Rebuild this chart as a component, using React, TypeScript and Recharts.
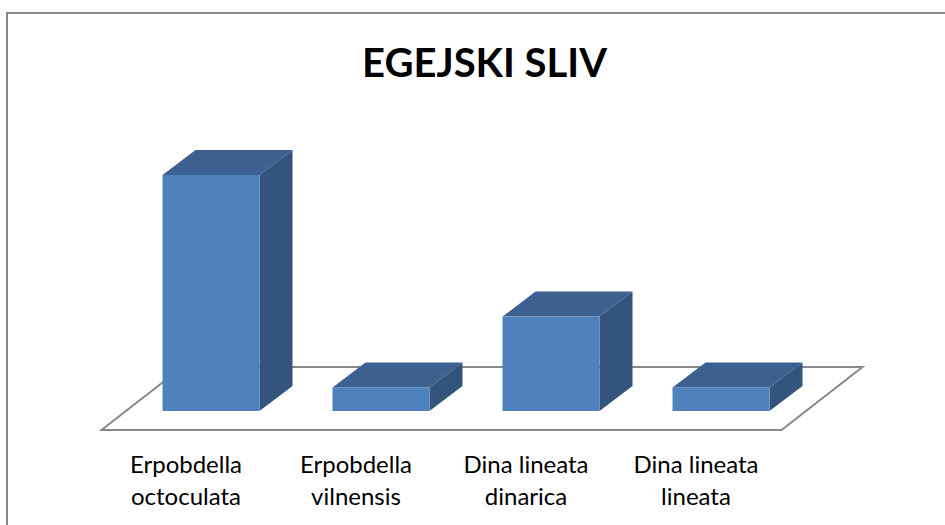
import { Bar, BarChart, ReferenceLine, XAxis, YAxis } from "recharts"

const species = [
  "Erpobdella octoculata",
  "Erpobdella vilnensis",
  "Dina lineata dinarica",
  "Dina lineata lineata",
]
const counts = [10, 1, 4, 1]
const title = "EGEJSKI SLIV"

const data = species.map((name, i) => ({ name, value: counts[i] }))

const FRONT = "#4f81bd"
const TOP = "#3c6190"
const SIDE = "#32547d"
const FLOOR = "#898989"

// depth of a bar (front face -> back face)
const BAR_DX = 33
const BAR_DY = 25

function Bar3D(props: any) {
  const { x, y, width, height } = props
  if (width == null || height == null) return null
  const x2 = x + width
  const y2 = y + height
  return (
    <g>
      <polygon
        points={`${x},${y} ${x + BAR_DX},${y - BAR_DY} ${x2 + BAR_DX},${y - BAR_DY} ${x2},${y}`}
        fill={TOP}
      />
      <polygon
        points={`${x2},${y} ${x2 + BAR_DX},${y - BAR_DY} ${x2 + BAR_DX},${y2 - BAR_DY} ${x2},${y2}`}
        fill={SIDE}
      />
      <rect x={x} y={y} width={width} height={height} fill={FRONT} />
    </g>
  )
}

// the floor plane, built from the baseline segment at value 0
function Floor(props: any) {
  const { x1, x2, y1 } = props
  const pts = [
    [x1 - 24, y1 + 19],
    [x2 - 24, y1 + 19],
    [x2 + 57, y1 - 44],
    [x1 + 57, y1 - 44],
  ]
    .map((p) => p.join(","))
    .join(" ")
  return <polygon points={pts} fill="none" stroke={FLOOR} strokeWidth={2} />
}

function SpeciesTick(props: any) {
  const { x, y, payload } = props
  const label: string = payload.value
  const cut = label.lastIndexOf(" ")
  const lines = [label.slice(0, cut), label.slice(cut + 1)]
  return (
    <text
      x={x - 24.5}
      y={y}
      textAnchor="middle"
      fill="#000"
      fontSize={24}
      fontFamily="Lato, sans-serif"
    >
      {lines.map((l, i) => (
        <tspan key={i} x={x - 24.5} dy={i === 0 ? 54 : 32}>
          {l}
        </tspan>
      ))}
    </text>
  )
}

export default function App() {
  return (
    <div style={{ position: "absolute", left: 0, top: 0, width: 945, height: 525, overflow: "hidden", background: "#fff" }}>
      <div
        style={{
          position: "absolute",
          left: 6,
          top: 12,
          width: 960,
          height: 540,
          borderTop: "2px solid #878787",
          borderLeft: "2px solid #878787",
        }}
      />
      <svg width={945} height={525} style={{ position: "absolute", left: 0, top: 0 }}>
        <text
          x={484.5}
          y={77}
          textAnchor="middle"
          fontSize={40}
          fontWeight={700}
          fontFamily="Lato, sans-serif"
          fill="#000"
        >
          {title}
        </text>
      </svg>
      <div style={{ position: "absolute", left: 0, top: 0 }}>
        <BarChart
          width={945}
          height={525}
          data={data}
          margin={{ top: 127.8, right: 139.5, left: 125.5, bottom: 74 }}
          barSize={97}
        >
          <XAxis
            dataKey="name"
            height={40}
            axisLine={false}
            tickLine={false}
            interval={0}
            tick={<SpeciesTick />}
          />
          <YAxis hide domain={[0, 12]} width={0} />
          <ReferenceLine y={0} ifOverflow="visible" shape={<Floor />} zIndex={-500} />
          <Bar dataKey="value" shape={<Bar3D />} isAnimationActive={false} />
        </BarChart>
      </div>
    </div>
  )
}
